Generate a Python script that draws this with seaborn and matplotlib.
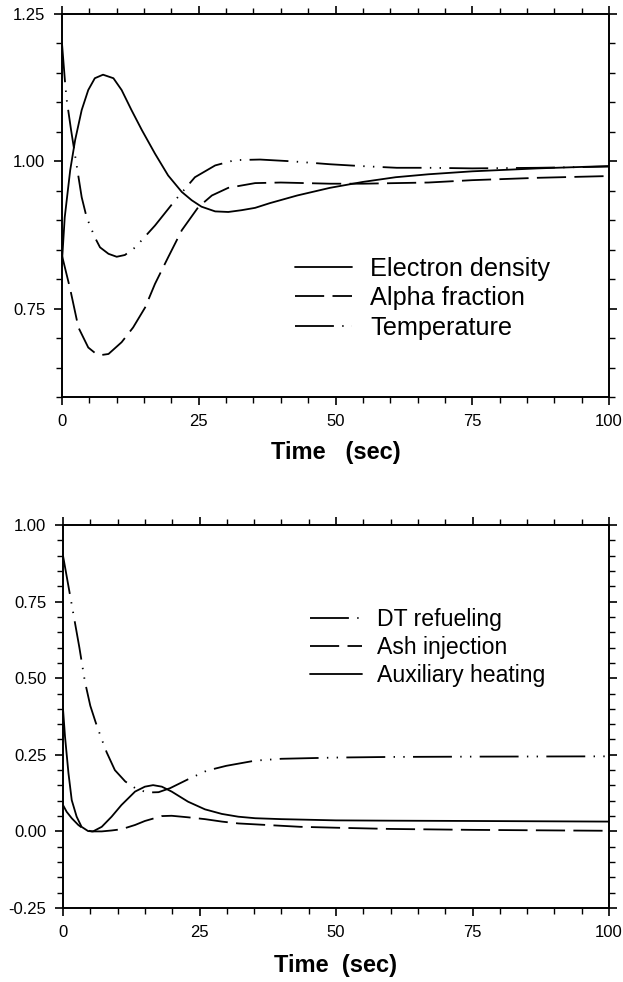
import numpy as np
import pandas as pd
import matplotlib
matplotlib.use("Agg")
import matplotlib.pyplot as plt
import seaborn as sns
from matplotlib.ticker import MultipleLocator

# ---------------- data ----------------
top_labels = ["Electron density", "Alpha fraction", "Temperature"]
t_ne = [0, 0.5, 1.5, 2.4, 3.6, 4.8, 6.0, 7.5, 9.4, 10.9, 12.7, 14.6, 17.0, 19.4, 21.9,
        23.7, 25.5, 28.0, 30.4, 32.8, 35.3, 38, 43, 49, 55, 61, 67, 75, 87, 100]
ne = [0.83, 0.905, 0.985, 1.036, 1.087, 1.121, 1.141, 1.147, 1.141, 1.121, 1.087, 1.053,
      1.013, 0.976, 0.948, 0.934, 0.923, 0.915, 0.914, 0.917, 0.921, 0.929, 0.942, 0.955,
      0.965, 0.973, 0.978, 0.983, 0.988, 0.992]
t_al = [0, 1.5, 3.0, 4.8, 6.0, 7.0, 8.5, 10.9, 13.0, 15.2, 17.0, 19.4, 21.9, 24.9, 27.4,
        30.4, 35.3, 40, 49, 55, 61, 67, 75, 87, 100]
al = [0.84, 0.783, 0.718, 0.684, 0.675, 0.671, 0.673, 0.693, 0.718, 0.752, 0.792, 0.837,
      0.883, 0.922, 0.942, 0.955, 0.963, 0.964, 0.962, 0.962, 0.963, 0.964, 0.968, 0.972,
      0.975]
t_te = [0, 0.55, 0.85, 1.66, 3.6, 4.5, 6.0, 6.95, 8.5, 10.0, 11.5, 13.4, 17.0, 20.7, 24.3,
        28.0, 31.6, 36.2, 42.0, 49.0, 54.5, 61.2, 67, 75, 87, 100]
te = [1.20, 1.135, 1.105, 1.053, 0.939, 0.905, 0.871, 0.854, 0.843, 0.838, 0.841, 0.854,
      0.891, 0.934, 0.973, 0.993, 1.002, 1.003, 1.0, 0.995, 0.992, 0.989, 0.989, 0.988,
      0.989, 0.991]

bot_labels = ["DT refueling", "Ash injection", "Auxiliary heating"]
t_dt = [0, 1.0, 2.0, 3.0, 4.0, 5.0, 6.0, 7.0, 8.0, 9.5, 11.4, 13.5, 15.5, 17.5, 19.6,
        22.9, 26.3, 29.9, 35.2, 40, 50, 60, 75, 100]
dt = [0.90, 0.80, 0.70, 0.60, 0.49, 0.41, 0.355, 0.305, 0.258, 0.200, 0.163, 0.138, 0.127,
      0.128, 0.141, 0.170, 0.198, 0.214, 0.231, 0.237, 0.241, 0.243, 0.244, 0.245]
t_ash = [0, 0.67, 1.6, 2.8, 4.0, 5.25, 7.1, 8.9, 10.7, 13.2, 15.0, 18.1, 19.9, 22.9, 26.0,
         29.1, 32.1, 35.2, 43.4, 50, 60, 75, 100]
ash = [0.086, 0.064, 0.043, 0.021, 0.005, 0.0, 0.0, 0.003, 0.007, 0.021, 0.034, 0.050,
       0.051, 0.046, 0.040, 0.032, 0.026, 0.023, 0.015, 0.012, 0.008, 0.005, 0.002]
t_ah = [0, 0.37, 1.0, 1.6, 2.5, 3.4, 4.6, 5.5, 7.1, 8.9, 10.7, 13.2, 15.0, 16.5, 18.1,
        19.9, 22.9, 26.0, 29.1, 32.1, 35.2, 40, 50, 60, 75, 100]
ah = [0.40, 0.309, 0.19, 0.102, 0.048, 0.015, 0.001, 0.0, 0.015, 0.048, 0.086, 0.13,
      0.146, 0.151, 0.146, 0.13, 0.097, 0.072, 0.057, 0.048, 0.043, 0.040, 0.036, 0.035,
      0.034, 0.032]

x_ticks = [0, 25, 50, 75, 100]
top_yticks = [0.75, 1.00, 1.25]
bot_yticks = [-0.25, 0.00, 0.25, 0.50, 0.75, 1.00]

# ---------------- style ----------------
sns.set_theme(style="ticks")
plt.rcParams["font.family"] = ["Liberation Sans", "DejaVu Sans"]
plt.rcParams["lines.scale_dashes"] = False
plt.rcParams["lines.linewidth"] = 1.3
plt.rcParams["axes.linewidth"] = 1.4
plt.rcParams["text.color"] = "black"
plt.rcParams["axes.labelcolor"] = "black"
plt.rcParams["xtick.color"] = "black"
plt.rcParams["ytick.color"] = "black"

DASHED = (21, 6)
DASHDOTDOT = (28, 6, 1, 6, 1, 6)

def frame(names, xs, ys):
    parts = [pd.DataFrame({"t": x, "v": y, "series": n}) for n, x, y in zip(names, xs, ys)]
    return pd.concat(parts, ignore_index=True)

df_top = frame(top_labels, [t_ne, t_al, t_te], [ne, al, te])
df_bot = frame(bot_labels, [t_dt, t_ash, t_ah], [dt, ash, ah])

fig = plt.figure(figsize=(6.23, 9.82), dpi=100)
ax1 = fig.add_axes([62/623, 1 - 397/982, 547/623, 383/982])
ax2 = fig.add_axes([63/623, 1 - 908/982, 546/623, 383/982])

def draw(ax, df, order, dashes, ylim, yticks, xlabel, labelpad, leg_anchor, leg_fs,
         hlen, hpad):
    sns.lineplot(data=df, x="t", y="v", hue="series", style="series",
                 hue_order=order, style_order=order,
                 palette={n: "black" for n in order}, dashes=dashes,
                 estimator=None, sort=True, linewidth=1.3, ax=ax)
    ax.set_xlim(0, 100)
    ax.set_ylim(*ylim)
    ax.set_xticks(x_ticks)
    ax.set_xticklabels([str(v) for v in x_ticks])
    ax.set_yticks(yticks)
    ax.set_yticklabels([f"{v:.2f}" for v in yticks])
    ax.xaxis.set_minor_locator(MultipleLocator(5))
    ax.yaxis.set_minor_locator(MultipleLocator(0.05))
    ax.tick_params(which="both", direction="out", top=True, right=True,
                   colors="black", labelcolor="black", labelsize=12, pad=6)
    ax.tick_params(which="major", length=6, width=1.2)
    ax.tick_params(which="minor", length=4, width=1.0)
    for s in ax.spines.values():
        s.set_visible(True)
        s.set_color("black")
        s.set_linewidth(1.4)
    ax.set_xlabel(xlabel, fontsize=17, fontweight="bold", labelpad=labelpad,
                  color="black")
    ax.set_ylabel("")
    leg = ax.get_legend()
    handles = list(leg.legend_handles)
    labels = [t.get_text() for t in leg.get_texts()]
    leg.remove()
    pairs = [(h, l) for h, l in zip(handles, labels) if l in order]
    lg = ax.legend([p[0] for p in pairs], [p[1] for p in pairs], loc="center left",
                   bbox_to_anchor=leg_anchor, frameon=False, fontsize=leg_fs,
                   handlelength=hlen, handletextpad=hpad, labelspacing=0.22,
                   borderpad=0, borderaxespad=0)
    for t in lg.get_texts():
        t.set_color("black")

draw(ax1, df_top, top_labels,
     {top_labels[0]: "", top_labels[1]: DASHED, top_labels[2]: DASHDOTDOT},
     (0.60, 1.25), top_yticks, "Time   (sec)", 9, (0.426, 0.258), 18.2, 2.25, 0.72)
draw(ax2, df_bot, bot_labels,
     {bot_labels[0]: DASHDOTDOT, bot_labels[1]: DASHED, bot_labels[2]: ""},
     (-0.25, 1.00), bot_yticks, "Time  (sec)", 10, (0.452, 0.681), 16.6, 2.25, 0.65)

fig.savefig("out.png", dpi=100)
